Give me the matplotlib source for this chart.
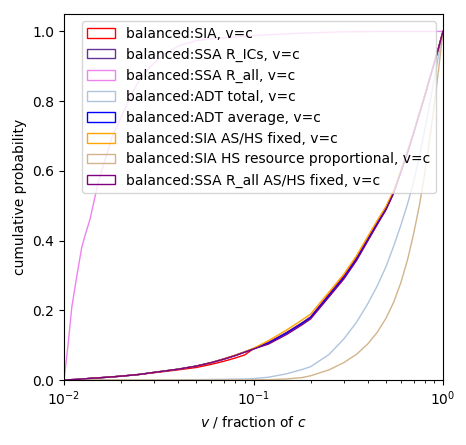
import matplotlib
matplotlib.use("Agg")
import matplotlib.pyplot as plt
from matplotlib.patches import Patch

# shared grid of v/c values for most curves
v_grid = [0.01, 0.012, 0.014, 0.017, 0.02, 0.025, 0.03, 0.04, 0.05, 0.06, 0.07,
          0.08, 0.09, 0.1, 0.12, 0.15, 0.18, 0.2, 0.25, 0.3, 0.35, 0.4, 0.45,
          0.5, 0.55, 0.6, 0.65, 0.7, 0.75, 0.8, 0.85, 0.9, 0.95, 1.0]

cdf_sia = [0.0, 0.002, 0.005, 0.008, 0.011, 0.016, 0.021, 0.029, 0.036, 0.045, 0.054,
           0.063, 0.072, 0.090, 0.108, 0.137, 0.164, 0.181, 0.246, 0.299, 0.351, 0.405, 0.452,
           0.493, 0.540, 0.600, 0.655, 0.710, 0.765, 0.815, 0.865, 0.910, 0.955, 1.0]
cdf_ssa_rics = [0.0, 0.002, 0.005, 0.008, 0.011, 0.016, 0.022, 0.031, 0.040, 0.050, 0.061,
                0.071, 0.081, 0.090, 0.107, 0.136, 0.163, 0.180, 0.243, 0.295, 0.348, 0.402, 0.450,
                0.491, 0.539, 0.599, 0.654, 0.709, 0.764, 0.814, 0.864, 0.910, 0.955, 1.0]
v_rall = [0.01, 0.0105, 0.011, 0.0117, 0.0124, 0.013, 0.0137, 0.0145, 0.0152, 0.016,
          0.017, 0.018, 0.019, 0.02, 0.0215, 0.023, 0.025, 0.0275, 0.03, 0.034, 0.04,
          0.05, 0.06, 0.076, 0.1, 0.15, 0.2, 0.3, 0.5, 1.0]
cdf_ssa_rall = [0.0, 0.10, 0.21, 0.30, 0.38, 0.42, 0.46, 0.52, 0.57, 0.61,
                0.655, 0.70, 0.725, 0.755, 0.79, 0.825, 0.86, 0.89, 0.91, 0.935, 0.958,
                0.974, 0.979, 0.983, 0.988, 0.993, 0.996, 0.999, 1.0, 1.0]
cdf_adt_total = [0.0, 0.0, 0.0, 0.0, 0.0, 0.0, 0.0, 0.0005, 0.001, 0.0015, 0.002,
                 0.0025, 0.003, 0.004, 0.008, 0.018, 0.030, 0.038, 0.073, 0.118, 0.166, 0.218, 0.270,
                 0.325, 0.385, 0.445, 0.505, 0.570, 0.640, 0.715, 0.790, 0.865, 0.935, 1.0]
cdf_adt_avg = [0.0, 0.002, 0.005, 0.008, 0.011, 0.016, 0.022, 0.031, 0.040, 0.050, 0.060,
               0.070, 0.080, 0.089, 0.106, 0.135, 0.162, 0.179, 0.242, 0.294, 0.347, 0.401, 0.449,
               0.490, 0.538, 0.598, 0.654, 0.709, 0.764, 0.814, 0.864, 0.910, 0.955, 1.0]
cdf_sia_fixed = [0.0, 0.002, 0.005, 0.008, 0.011, 0.016, 0.022, 0.031, 0.040, 0.050, 0.061,
                 0.071, 0.081, 0.091, 0.113, 0.144, 0.172, 0.189, 0.252, 0.304, 0.357, 0.411, 0.458,
                 0.498, 0.545, 0.603, 0.657, 0.711, 0.766, 0.815, 0.865, 0.910, 0.955, 1.0]
cdf_sia_hs = [0.0, 0.0, 0.0, 0.0, 0.0, 0.0, 0.0, 0.0, 0.0, 0.0, 0.0,
              0.0, 0.0, 0.0005, 0.001, 0.003, 0.007, 0.012, 0.029, 0.050, 0.074, 0.103, 0.137,
              0.177, 0.224, 0.280, 0.345, 0.420, 0.500, 0.590, 0.690, 0.790, 0.895, 1.0]
cdf_ssa_rall_fixed = [0.0, 0.002, 0.005, 0.008, 0.011, 0.016, 0.022, 0.031, 0.040, 0.050, 0.060,
                      0.070, 0.080, 0.089, 0.103, 0.131, 0.158, 0.175, 0.238, 0.290, 0.343, 0.398, 0.446,
                      0.488, 0.537, 0.598, 0.653, 0.708, 0.763, 0.813, 0.864, 0.910, 0.955, 1.0]

labels = ["balanced:SIA, v=c",
          "balanced:SSA R_ICs, v=c",
          "balanced:SSA R_all, v=c",
          "balanced:ADT total, v=c",
          "balanced:ADT average, v=c",
          "balanced:SIA AS/HS fixed, v=c",
          "balanced:SIA HS resource proportional, v=c",
          "balanced:SSA R_all AS/HS fixed, v=c"]
colors = ["red", "rebeccapurple", "violet", "lightsteelblue", "blue",
          "orange", "tan", "purple"]
series = [(v_grid, cdf_sia), (v_grid, cdf_ssa_rics), (v_rall, cdf_ssa_rall),
          (v_grid, cdf_adt_total), (v_grid, cdf_adt_avg), (v_grid, cdf_sia_fixed),
          (v_grid, cdf_sia_hs), (v_grid, cdf_ssa_rall_fixed)]

fig = plt.figure(figsize=(4.66, 4.45), dpi=100)
ax = fig.add_axes([64 / 466, 65 / 445, 379 / 466, 366 / 445])

handles = []
for (x, y), c, lab in zip(series, colors, labels):
    ax.plot(x, y, color=c, lw=1.0)
    handles.append(Patch(facecolor="none", edgecolor=c, label=lab))

ax.set_xscale("log")
ax.set_xlim(0.01, 1)
ax.set_ylim(0, 1.05)
ax.set_yticks([0.0, 0.2, 0.4, 0.6, 0.8, 1.0])
ax.set_xlabel("$v$ / fraction of $c$")
ax.set_ylabel("cumulative probability")
ax.legend(handles=handles, loc="upper right")

fig.savefig("out.png", dpi=100)
